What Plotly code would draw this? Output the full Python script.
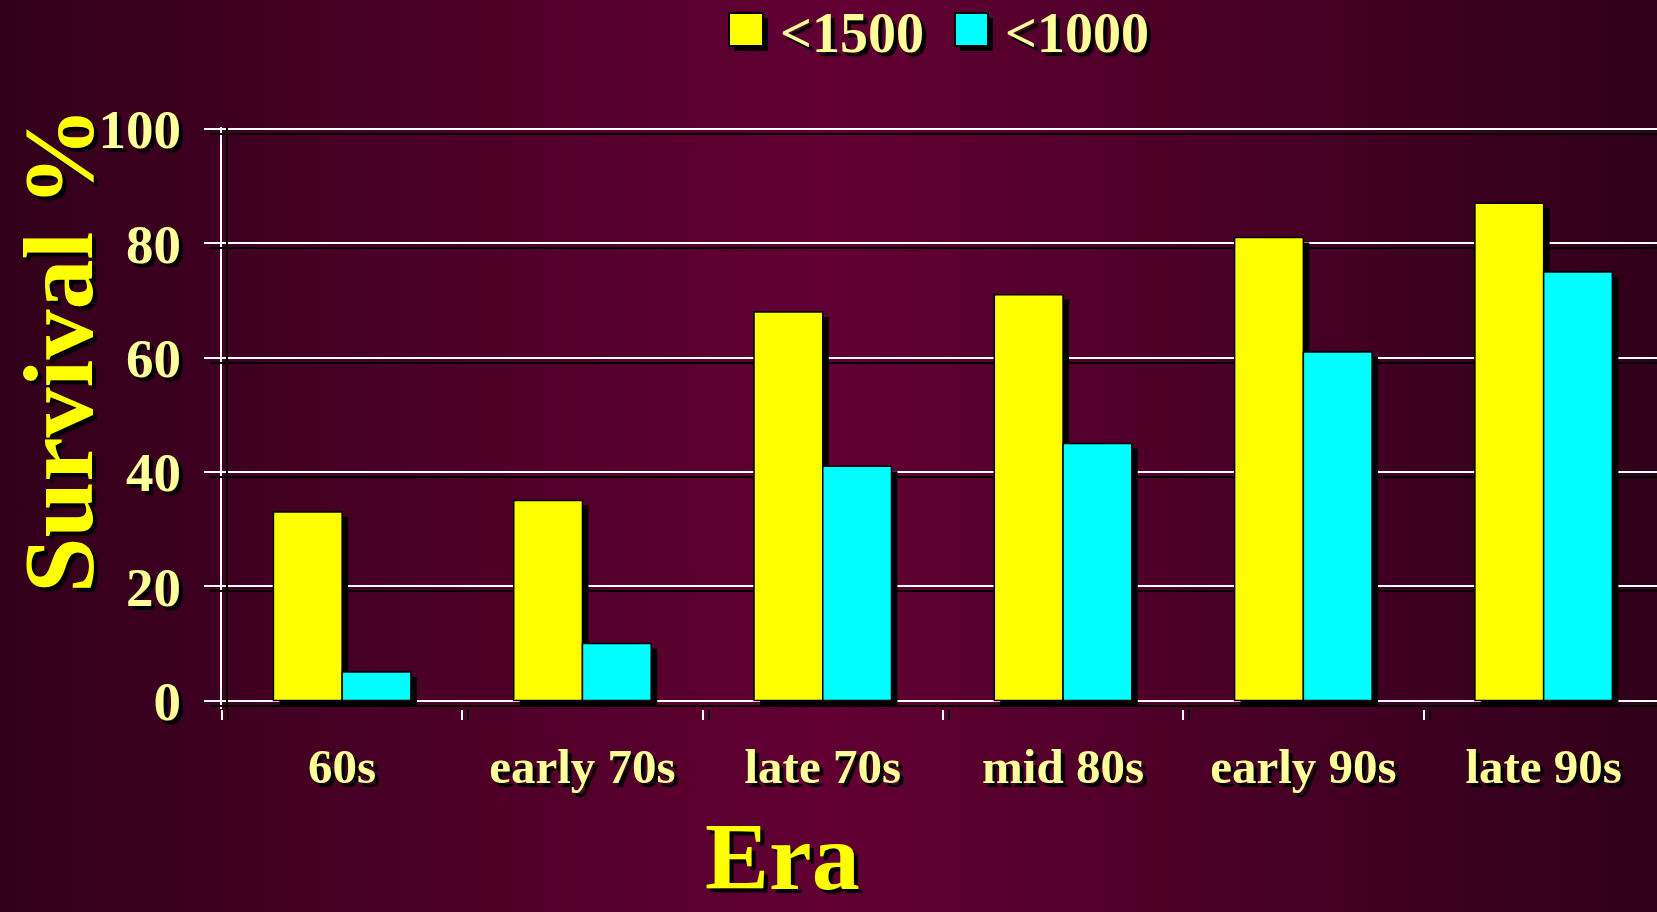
import base64
import plotly.graph_objects as go

# ---- data -------------------------------------------------------------
eras = ["60s", "early 70s", "late 70s", "mid 80s", "early 90s", "late 90s"]
survival_lt1500 = [33, 35, 68, 71, 81, 87]
survival_lt1000 = [5, 10, 41, 45, 61, 75]
series_names = ["<1500", "<1000"]
y_tick_values = [0, 20, 40, 60, 80, 100]

# ---- styling ----------------------------------------------------------
W, H = 1657, 912
ML, MR, MT, MB = 222, 0, 127, 203
PW, PH = W - ML - MR, H - MT - MB

SERIF = "Liberation Serif, Times New Roman, serif"
BAR_COLORS = ["#ffff00", "#00ffff"]
LABEL_COLOR = "#ffff99"
TITLE_COLOR = "#ffff00"
SHADOW = "4px 4px 1px #000000"

CAT_PX = 240.3                       # width of one category in pixels
UNIT_PX = 571.6 / 100.0              # pixels per survival-% unit
X_RANGE = [-0.5, -0.5 + PW / CAT_PX]
Y_RANGE = [-(H - MB - (MT + 2 + 571.6)) / UNIT_PX, 100 + 2 / UNIT_PX]

# drop shadow offsets (pixels)
SH_DX, SH_DY = 6, 5
X_RANGE_SH = [r - SH_DX / CAT_PX for r in X_RANGE]
Y_RANGE_SH = [r + SH_DY / UNIT_PX for r in Y_RANGE]


def px_x(px):
    return (px - ML) / PW


def px_y(py):
    return (H - MB - py) / PH


fig = go.Figure()

series = [survival_lt1500, survival_lt1000]

# shadows (base subplot, shifted axes)
for name, vals in zip(series_names, series):
    fig.add_trace(go.Bar(
        x=eras, y=vals, name=name + " shadow", xaxis="x", yaxis="y",
        marker=dict(color="#000000", line=dict(width=0)),
        showlegend=False, hoverinfo="skip",
    ))

# main bars (overlay subplot)
for name, vals, col in zip(series_names, series, BAR_COLORS):
    fig.add_trace(go.Bar(
        x=eras, y=vals, name=name, xaxis="x2", yaxis="y2",
        marker=dict(color=col, line=dict(color="#000000", width=1.5)),
        showlegend=False,
    ))

# background gradient
svg = (
    f'<svg xmlns="http://www.w3.org/2000/svg" width="{W}" height="{H}" '
    f'viewBox="0 0 {W} {H}" preserveAspectRatio="none">'
    '<defs><linearGradient id="g" x1="0" y1="0" x2="1" y2="0">'
    '<stop offset="0" stop-color="#32001a"/>'
    '<stop offset="0.5" stop-color="#620033"/>'
    '<stop offset="1" stop-color="#30001a"/>'
    '</linearGradient></defs>'
    f'<rect width="{W}" height="{H}" fill="url(#g)"/></svg>'
)
bg_src = "data:image/svg+xml;base64," + base64.b64encode(svg.encode()).decode()

tick_font = dict(family=SERIF, size=55, color=LABEL_COLOR, weight="bold", shadow=SHADOW)
cat_font = dict(family=SERIF, size=49, color=LABEL_COLOR, weight="bold", shadow=SHADOW)

# legend built from squares + labels
shapes = []
annotations = []
legend_boxes = [(729, 13, 763, 46), (955, 13, 988, 46)]
legend_text_x = [778, 1003]
for (x0, y0, x1, y1), col, name, tx in zip(legend_boxes, BAR_COLORS, series_names, legend_text_x):
    shapes.append(dict(type="rect", xref="paper", yref="paper",
                       x0=px_x(x0 + 5), x1=px_x(x1 + 5), y0=px_y(y1 + 5), y1=px_y(y0 + 5),
                       fillcolor="#000000", line=dict(width=0), layer="above"))
    shapes.append(dict(type="rect", xref="paper", yref="paper",
                       x0=px_x(x0), x1=px_x(x1), y0=px_y(y1), y1=px_y(y0),
                       fillcolor=col, line=dict(color="#000000", width=2), layer="above"))
    annotations.append(dict(text=name, xref="paper", yref="paper",
                            x=px_x(tx), y=px_y(0), xanchor="left", yanchor="top",
                            showarrow=False,
                            font=dict(family=SERIF, size=56, color=LABEL_COLOR,
                                      weight="bold", shadow=SHADOW)))

# axis titles
annotations.append(dict(text="Survival %", xref="paper", yref="paper",
                        x=px_x(58), y=px_y(350), xanchor="center", yanchor="middle",
                        textangle=-90, showarrow=False,
                        font=dict(family=SERIF, size=100, color=TITLE_COLOR,
                                  weight="bold", shadow="-4px 4px 1px #000000")))
annotations.append(dict(text="Era", xref="paper", yref="paper",
                        x=px_x(782), y=px_y(911.5), xanchor="center", yanchor="bottom",
                        showarrow=False,
                        font=dict(family=SERIF, size=96, color=TITLE_COLOR,
                                  weight="bold", shadow=SHADOW)))

fig.update_layout(
    width=W, height=H,
    margin=dict(l=ML, r=MR, t=MT, b=MB, pad=0),
    paper_bgcolor="#3a001f",
    plot_bgcolor="rgba(0,0,0,0)",
    barmode="group", bargap=0.428, bargroupgap=0,
    showlegend=False,
    images=[dict(source=bg_src, xref="paper", yref="paper",
                 x=px_x(0), y=px_y(0), sizex=W / PW, sizey=H / PH,
                 xanchor="left", yanchor="top", sizing="stretch", layer="below")],
    shapes=shapes,
    annotations=annotations,
    # shadow axes
    xaxis=dict(type="category", range=X_RANGE_SH, showticklabels=False,
               ticks="outside", tickson="boundaries", ticklen=10,
               tickcolor="#000000", tickwidth=2, showgrid=False,
               showline=False, zeroline=False, fixedrange=True),
    yaxis=dict(range=Y_RANGE_SH, anchor="free", position=5 / PW,
               tickvals=y_tick_values, showticklabels=False,
               ticks="outside", ticklen=16, tickcolor="#000000", tickwidth=2,
               showgrid=True, gridcolor="#000000", gridwidth=2,
               showline=True, linecolor="#000000", linewidth=2,
               zeroline=False, fixedrange=True),
    # visible axes
    xaxis2=dict(type="category", overlaying="x", anchor="y2", side="bottom",
                range=X_RANGE, ticks="outside", tickson="boundaries", ticklen=10,
                tickcolor="#ffffff", tickwidth=2, showgrid=False,
                showline=False, zeroline=False, tickfont=cat_font,
                ticklabelstandoff=24, fixedrange=True),
    yaxis2=dict(overlaying="y", anchor="x2", side="left", range=Y_RANGE,
                tickvals=y_tick_values, ticks="outside", ticklen=16,
                tickcolor="#ffffff", tickwidth=2,
                showgrid=True, gridcolor="#ffffff", gridwidth=2,
                showline=True, linecolor="#ffffff", linewidth=2,
                zeroline=False, tickfont=tick_font, ticklabelstandoff=12,
                fixedrange=True),
)

fig.write_html("out.html")
